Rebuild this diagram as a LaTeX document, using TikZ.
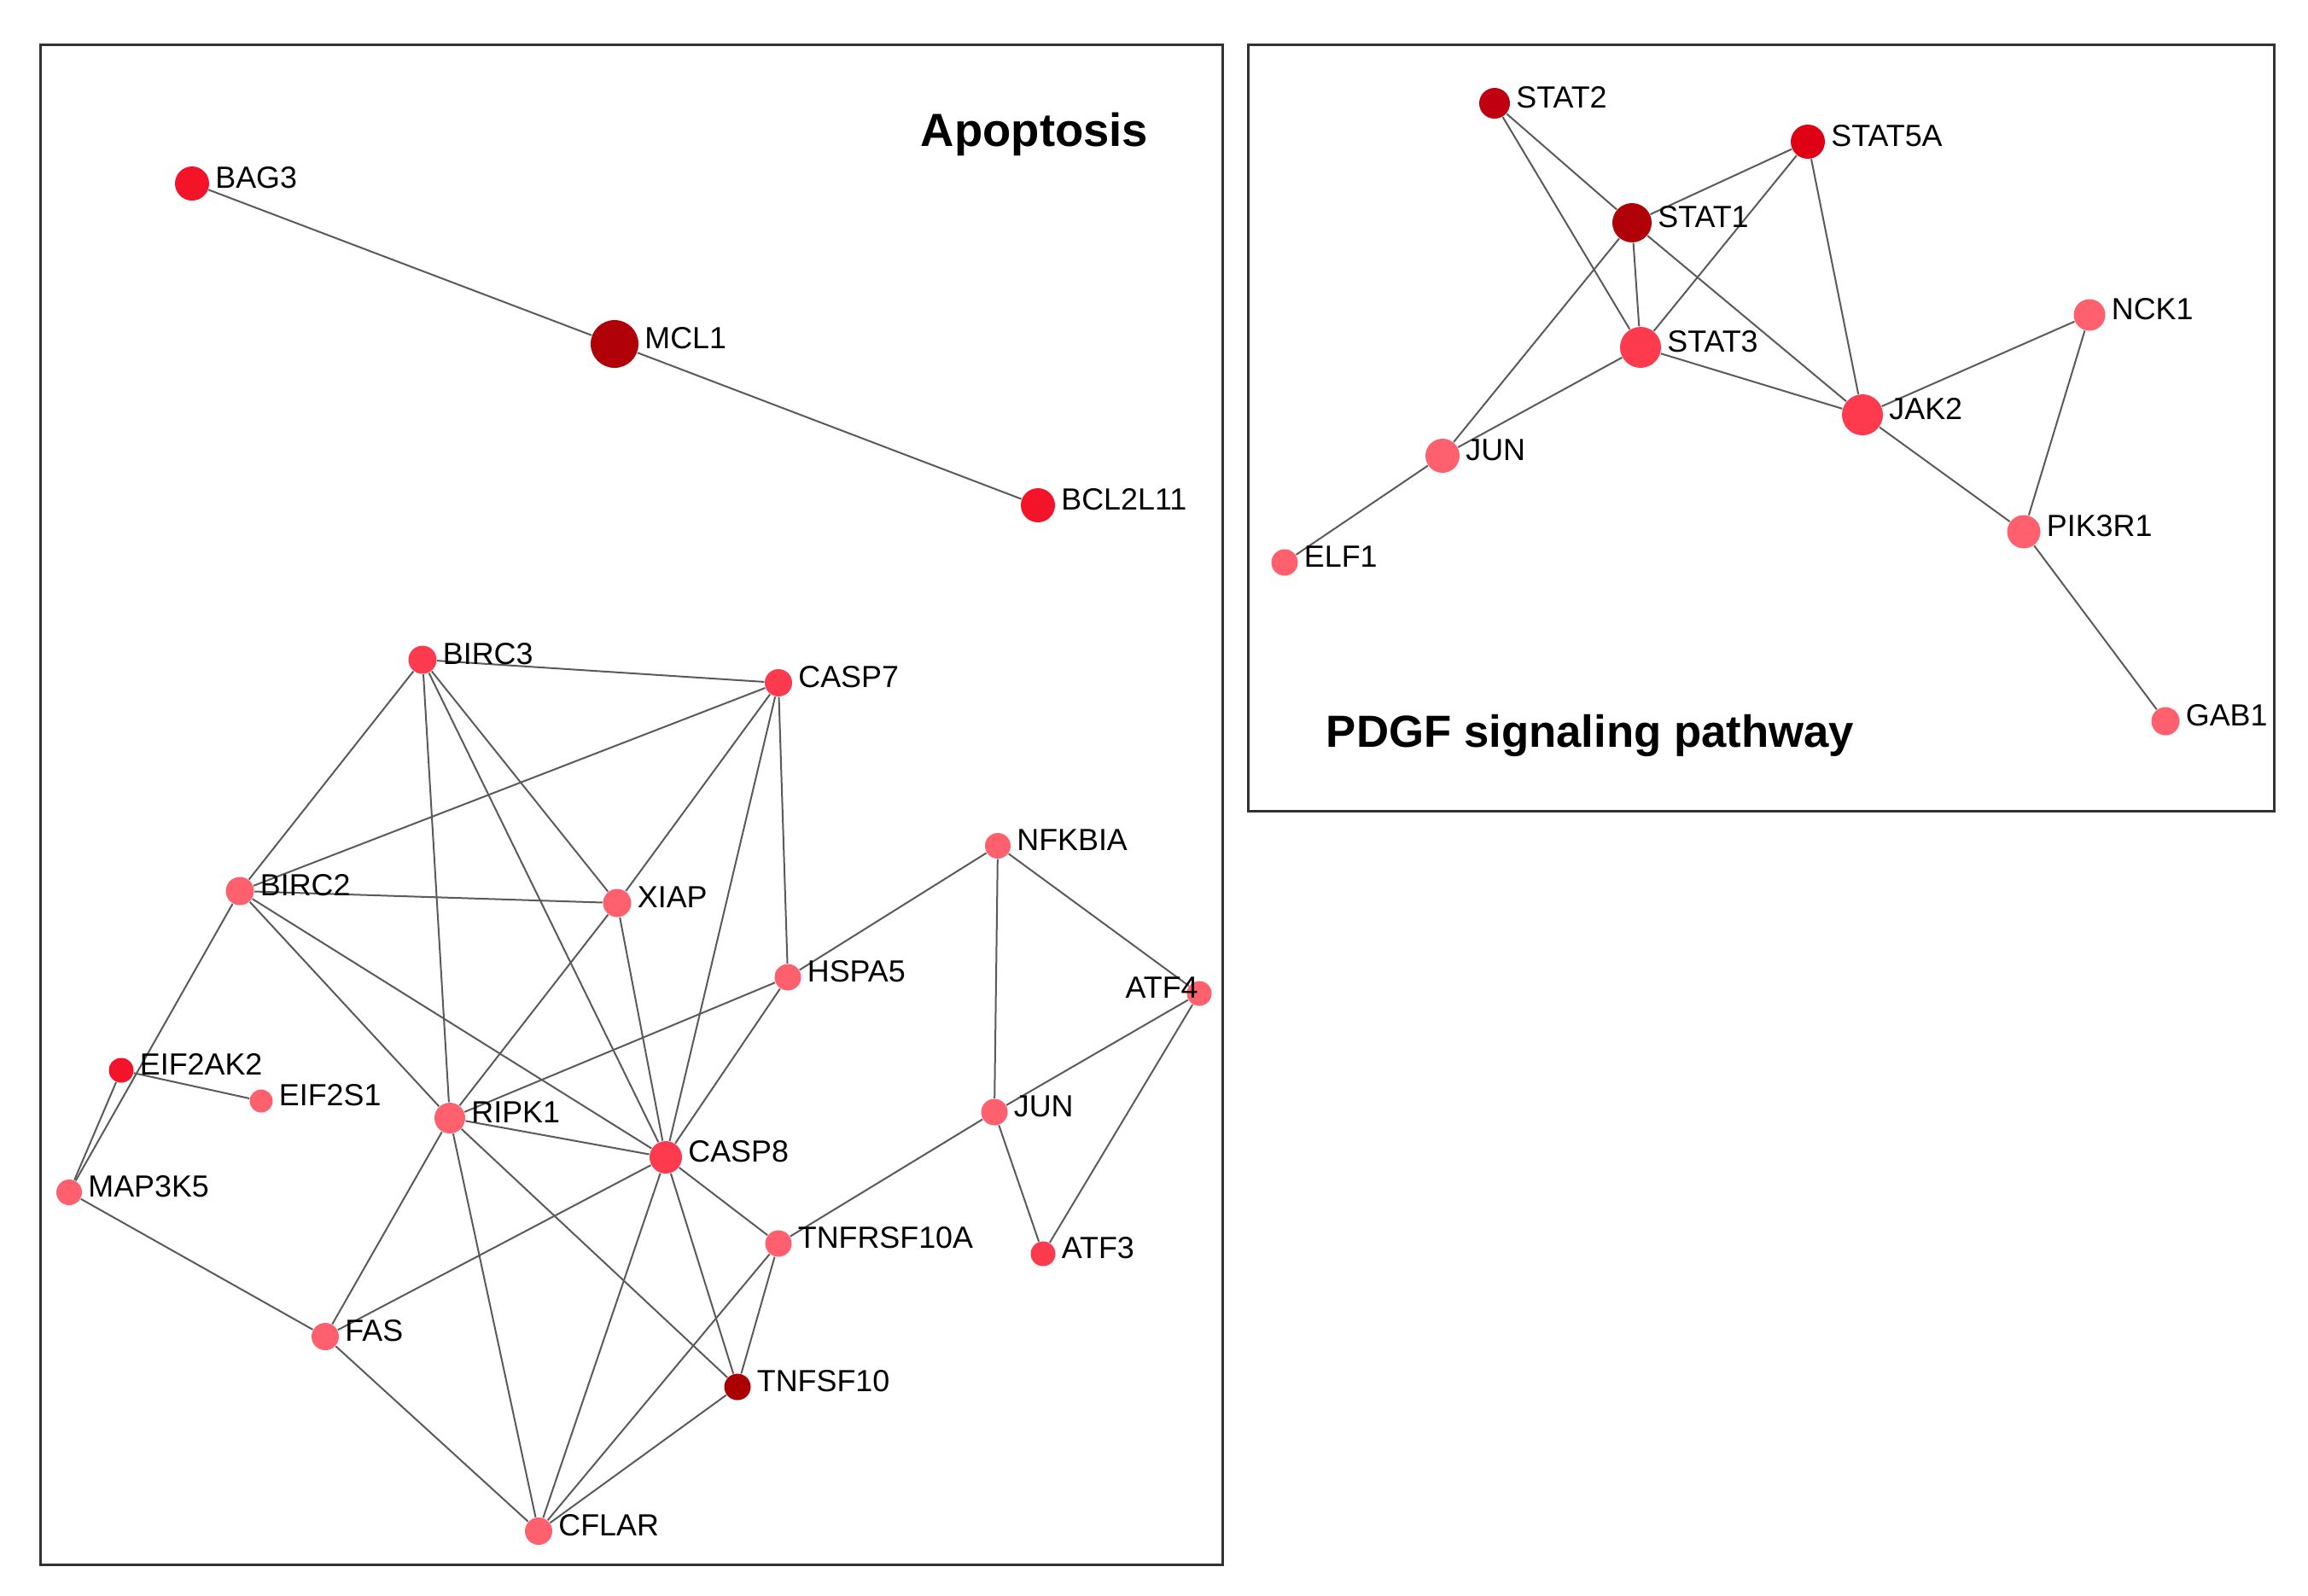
\documentclass[tikz,border=0pt]{standalone}
\usepackage{fontspec}
\setmainfont{Liberation Sans}
\usetikzlibrary{backgrounds}
\definecolor{genedark}{RGB}{176,0,8}
\definecolor{genetnf}{RGB}{170,0,0}
\definecolor{genestattwo}{RGB}{192,0,16}
\definecolor{genestatfive}{RGB}{224,0,22}
\definecolor{genebright}{RGB}{244,20,42}
\definecolor{genemid}{RGB}{253,58,78}
\definecolor{genelight}{RGB}{255,96,110}
\definecolor{edgegray}{RGB}{90,90,90}
\definecolor{framegray}{RGB}{50,50,50}
\begin{document}
\begin{tikzpicture}[x=1cm,y=-1cm,label distance=0.6mm,
  every label/.style={inner sep=0pt,yshift=0.7mm,font=\fontsize{10.2}{12}\selectfont}]
\tikzstyle{vertex}=[circle, draw=none, inner sep=0pt]
\tikzstyle{rvertex}=[vertex, every label/.style={inner sep=0pt,yshift=0.6mm,font=\fontsize{9.3}{11}\selectfont}]
\tikzstyle{link}=[draw=edgegray, line width=0.2mm]
\tikzstyle{panel}=[draw=framegray, line width=0.3mm]
\tikzstyle{title}=[anchor=base, inner sep=0pt, font=\bfseries\fontsize{15.5}{18}\selectfont]
\useasboundingbox (0,0) rectangle (27.04,18.69);

% panels
\draw [panel] (0.48,0.52) rectangle (14.32,18.33);
\draw [panel] (14.62,0.52) rectangle (26.64,9.50);
\node [title] (apotitle) at (12.12,1.71) {Apoptosis};
\node [title, font=\bfseries\fontsize{15}{18}\selectfont] (pdgftitle) at (18.63,8.75) {PDGF signaling pathway};

% apoptosis
\node [vertex, fill=genebright, minimum size=4.0mm, label=right:BAG3] (bag3) at (2.25,2.15) {};
\node [vertex, fill=genedark, minimum size=5.6mm, label=right:MCL1] (mcl1) at (7.20,4.03) {};
\node [vertex, fill=genebright, minimum size=4.0mm, label=right:BCL2L11] (bcl2l11) at (12.16,5.92) {};
\node [vertex, fill=genemid, minimum size=3.3mm, label=right:BIRC3] (birc3) at (4.95,7.73) {};
\node [vertex, fill=genemid, minimum size=3.2mm, label=right:CASP7] (casp7) at (9.12,8.00) {};
\node [vertex, fill=genelight, minimum size=3.3mm, label=right:BIRC2] (birc2) at (2.81,10.44) {};
\node [vertex, fill=genelight, minimum size=3.3mm, label=right:XIAP] (xiap) at (7.23,10.58) {};
\node [vertex, fill=genelight, minimum size=3.1mm, label=right:HSPA5] (hspa5) at (9.23,11.45) {};
\node [vertex, fill=genelight, minimum size=3.0mm, label=right:NFKBIA] (nfkbia) at (11.69,9.91) {};
\node [vertex, fill=genelight, minimum size=2.9mm, label={[label distance=-1.45mm]left:ATF4}] (atf4) at (14.05,11.64) {};
\node [vertex, fill=genebright, minimum size=2.9mm, label=right:EIF2AK2] (eif2ak2) at (1.42,12.54) {};
\node [vertex, fill=genelight, minimum size=2.7mm, label=right:EIF2S1] (eif2s1) at (3.06,12.90) {};
\node [vertex, fill=genelight, minimum size=3.6mm, label=right:RIPK1] (ripk1) at (5.27,13.10) {};
\node [vertex, fill=genemid, minimum size=3.8mm, label=right:CASP8] (casp8) at (7.80,13.56) {};
\node [vertex, fill=genelight, minimum size=3.1mm, label=right:JUN] (jun) at (11.65,13.03) {};
\node [vertex, fill=genelight, minimum size=3.0mm, label=right:MAP3K5] (map3k5) at (0.81,13.97) {};
\node [vertex, fill=genelight, minimum size=3.1mm, label=right:TNFRSF10A] (tnfrsf10a) at (9.12,14.57) {};
\node [vertex, fill=genemid, minimum size=2.9mm, label=right:ATF3] (atf3) at (12.22,14.69) {};
\node [vertex, fill=genelight, minimum size=3.2mm, label=right:FAS] (fas) at (3.81,15.66) {};
\node [vertex, fill=genetnf, minimum size=3.1mm, label=right:TNFSF10] (tnfsf10) at (8.64,16.25) {};
\node [vertex, fill=genelight, minimum size=3.2mm, label=right:CFLAR] (cflar) at (6.31,17.94) {};

% pdgf
\node [rvertex, fill=genestattwo, minimum size=3.6mm, label=right:STAT2] (stat2) at (17.51,1.21) {};
\node [rvertex, fill=genestatfive, minimum size=4.0mm, label=right:STAT5A] (stat5a) at (21.18,1.66) {};
\node [rvertex, fill=genedark, minimum size=4.6mm, label=right:STAT1] (stat1) at (19.12,2.61) {};
\node [rvertex, fill=genemid, minimum size=4.8mm, label=right:STAT3] (stat3) at (19.22,4.07) {};
\node [rvertex, fill=genelight, minimum size=3.7mm, label=right:NCK1] (nck1) at (24.48,3.69) {};
\node [rvertex, fill=genemid, minimum size=4.8mm, label=right:JAK2] (jak2) at (21.82,4.86) {};
\node [rvertex, fill=genelight, minimum size=4.0mm, label=right:JUN] (junr) at (16.90,5.34) {};
\node [rvertex, fill=genelight, minimum size=3.1mm, label=right:ELF1] (elf1) at (15.05,6.59) {};
\node [rvertex, fill=genelight, minimum size=3.9mm, label=right:PIK3R1] (pik3r1) at (23.71,6.23) {};
\node [rvertex, fill=genelight, minimum size=3.3mm, label=right:GAB1] (gab1) at (25.37,8.45) {};

\begin{scope}[on background layer]
\draw [link] (bag3) -- (mcl1);
\draw [link] (mcl1) -- (bcl2l11);
\draw [link] (birc3) -- (casp7);
\draw [link] (birc3) -- (birc2);
\draw [link] (birc3) -- (xiap);
\draw [link] (birc3) -- (ripk1);
\draw [link] (birc3) -- (casp8);
\draw [link] (birc2) -- (casp7);
\draw [link] (birc2) -- (xiap);
\draw [link] (birc2) -- (ripk1);
\draw [link] (birc2) -- (casp8);
\draw [link] (birc2) -- (map3k5);
\draw [link] (eif2ak2) -- (map3k5);
\draw [link] (eif2ak2) -- (eif2s1);
\draw [link] (map3k5) -- (fas);
\draw [link] (casp7) -- (xiap);
\draw [link] (casp7) -- (casp8);
\draw [link] (casp7) -- (hspa5);
\draw [link] (xiap) -- (ripk1);
\draw [link] (xiap) -- (casp8);
\draw [link] (hspa5) -- (ripk1);
\draw [link] (hspa5) -- (casp8);
\draw [link] (hspa5) -- (nfkbia);
\draw [link] (nfkbia) -- (jun);
\draw [link] (nfkbia) -- (atf4);
\draw [link] (jun) -- (atf4);
\draw [link] (jun) -- (atf3);
\draw [link] (atf4) -- (atf3);
\draw [link] (jun) -- (tnfrsf10a);
\draw [link] (ripk1) -- (casp8);
\draw [link] (ripk1) -- (fas);
\draw [link] (ripk1) -- (cflar);
\draw [link] (ripk1) -- (tnfsf10);
\draw [link] (casp8) -- (tnfrsf10a);
\draw [link] (casp8) -- (tnfsf10);
\draw [link] (casp8) -- (cflar);
\draw [link] (casp8) -- (fas);
\draw [link] (tnfrsf10a) -- (tnfsf10);
\draw [link] (tnfrsf10a) -- (cflar);
\draw [link] (tnfsf10) -- (cflar);
\draw [link] (fas) -- (cflar);

\draw [link] (stat2) -- (stat1);
\draw [link] (stat2) -- (stat3);
\draw [link] (stat5a) -- (stat1);
\draw [link] (stat5a) -- (stat3);
\draw [link] (stat5a) -- (jak2);
\draw [link] (stat1) -- (stat3);
\draw [link] (stat1) -- (junr);
\draw [link] (stat1) -- (jak2);
\draw [link] (stat3) -- (junr);
\draw [link] (stat3) -- (jak2);
\draw [link] (jak2) -- (nck1);
\draw [link] (jak2) -- (pik3r1);
\draw [link] (nck1) -- (pik3r1);
\draw [link] (pik3r1) -- (gab1);
\draw [link] (junr) -- (elf1);
\end{scope}
\end{tikzpicture}
\end{document}
